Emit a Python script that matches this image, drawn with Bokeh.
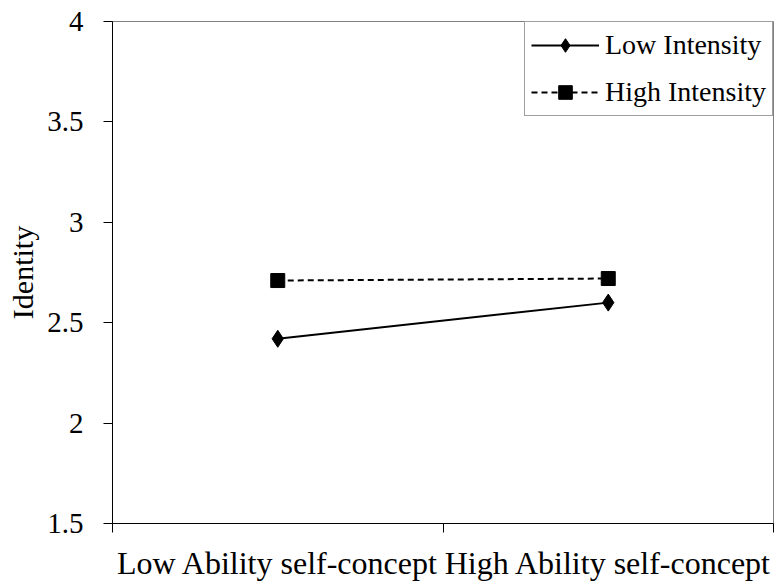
from bokeh.embed import file_html
from bokeh.models import FixedTicker, Legend, LegendItem, Range1d
from bokeh.plotting import figure
from bokeh.resources import INLINE

# Chart data
categories = ["Low Ability self-concept", "High Ability self-concept"]
low_intensity = [2.42, 2.60]
high_intensity = [2.71, 2.72]
y_ticks = [1.5, 2.0, 2.5, 3.0, 3.5, 4.0]
y_tick_labels = ["1.5", "2", "2.5", "3", "3.5", "4"]

FONT = "Liberation Serif"

# categories sit in the middle of unit-wide bands; band edges carry the tick marks
x_pos = [i + 0.5 for i in range(len(categories))]
band_edges = [float(i) for i in range(len(categories) + 1)]

p = figure(
    width=781,
    height=583,
    x_range=Range1d(0, len(categories)),
    y_range=Range1d(y_ticks[0], y_ticks[-1]),
    output_backend="svg",
    toolbar_location=None,
    min_border_left=112,
    min_border_right=8,
    min_border_top=21,
    min_border_bottom=60,
    background_fill_color="white",
    border_fill_color="white",
)
p.xgrid.visible = False
p.ygrid.visible = False
p.outline_line_color = "#808080"
p.outline_line_width = 1

# x axis: category names under band centres, ticks on band edges
p.xaxis.ticker = FixedTicker(ticks=x_pos, minor_ticks=band_edges)
p.xaxis.major_label_overrides = {x: c for x, c in zip(x_pos, categories)}
p.xaxis.major_tick_in = 0
p.xaxis.major_tick_out = 0
p.xaxis.minor_tick_in = 0
p.xaxis.minor_tick_out = 9
p.xaxis.minor_tick_line_color = "black"
p.xaxis.major_label_standoff = 12
p.xaxis.major_label_text_font = FONT
p.xaxis.major_label_text_font_size = "32px"
p.xaxis.major_label_text_color = "black"
p.xaxis.axis_line_color = "black"

# y axis
p.yaxis.ticker = FixedTicker(ticks=y_ticks)
p.yaxis.major_label_overrides = {t: s for t, s in zip(y_ticks, y_tick_labels)}
p.yaxis.major_tick_in = 0
p.yaxis.major_tick_out = 9
p.yaxis.minor_tick_out = 0
p.yaxis.minor_tick_in = 0
p.yaxis.major_label_standoff = 20
p.yaxis.major_label_text_font = FONT
p.yaxis.major_label_text_font_size = "29px"
p.yaxis.major_label_text_color = "black"
p.yaxis.axis_label = "Identity"
p.yaxis.axis_label_text_font = FONT
p.yaxis.axis_label_text_font_size = "30px"
p.yaxis.axis_label_text_font_style = "normal"
p.yaxis.axis_label_text_color = "black"
p.yaxis.axis_label_standoff = 5
p.yaxis.axis_line_color = "black"

# series
low_line = p.line(x_pos, low_intensity, line_color="black", line_width=2)
low_pts = p.scatter(x_pos, low_intensity, marker="diamond", size=17,
                    fill_color="black", line_color="black")
high_line = p.line(x_pos, high_intensity, line_color="black", line_width=2,
                   line_dash="6 4")
high_pts = p.scatter(x_pos, high_intensity, marker="square", size=14,
                     fill_color="black", line_color="black")

legend = Legend(
    items=[
        LegendItem(label="Low Intensity", renderers=[low_line, low_pts]),
        LegendItem(label="High Intensity", renderers=[high_line, high_pts]),
    ],
    location="top_right",
    margin=0,
    padding=6,
    spacing=13,
    glyph_width=68,
    glyph_height=34,
    label_height=34,
    label_standoff=6,
    label_text_font=FONT,
    label_text_font_size="28px",
    label_text_color="black",
    border_line_color="#404040",
    border_line_width=1,
    background_fill_color="white",
    background_fill_alpha=1.0,
)
p.add_layout(legend, "center")

open("out.html", "w").write(file_html(p, INLINE))
